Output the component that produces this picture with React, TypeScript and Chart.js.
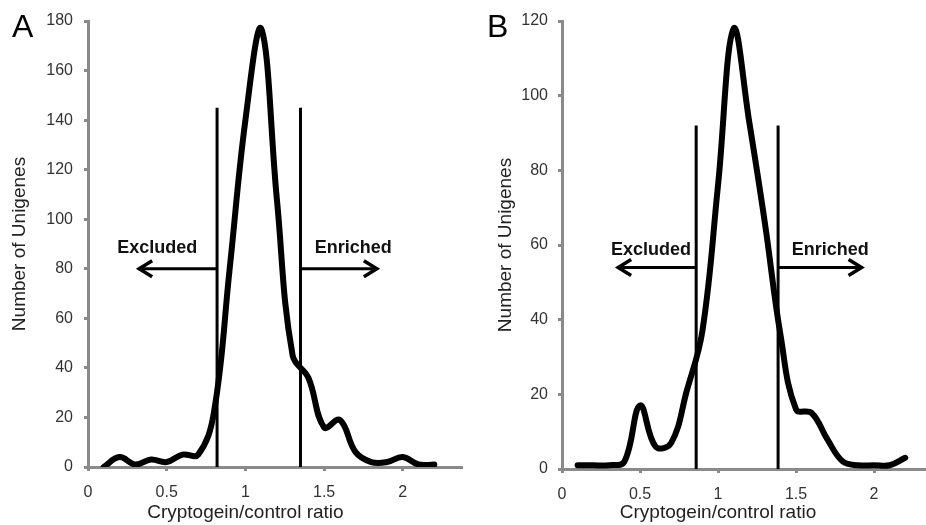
import React, { useEffect, useRef } from 'react';
import { Chart, registerables } from 'chart.js';

Chart.register(...registerables);

// ---- data ----
const RATIOS = [0.1, 0.2, 0.3, 0.4, 0.5, 0.6, 0.7, 0.8, 0.9, 1.0, 1.1, 1.2, 1.3, 1.4, 1.5, 1.6, 1.7, 1.8, 1.9, 2.0, 2.1, 2.2];
const COUNTS_A = [0, 4, 1, 3, 2, 5, 5, 22, 80, 140, 177, 108, 45, 36, 16, 19, 6, 2, 2, 4, 1, 1];
const COUNTS_B = [1, 1, 1, 2, 17, 6, 7, 21, 37, 76, 118, 93, 66, 36, 16, 15, 8, 2, 1, 1, 1, 3];
const X_TICKS = [0, 0.5, 1, 1.5, 2];
const Y_TICKS_A = [0, 20, 40, 60, 80, 100, 120, 140, 160, 180];
const Y_TICKS_B = [0, 20, 40, 60, 80, 100, 120];
const CUTOFFS_A = [0.82, 1.35];
const CUTOFFS_B = [0.86, 1.385];
const CUTOFF_TOP_A = 145;
const CUTOFF_TOP_B = 92;
const X_TITLE = 'Cryptogein/control ratio';
const Y_TITLE = 'Number of Unigenes';
const LABEL_LEFT = 'Excluded';
const LABEL_RIGHT = 'Enriched';

const FONT = '"Liberation Sans", Arial, Helvetica, sans-serif';
const AXIS_COLOR = '#8a8a8a';

type PanelCfg = {
  letter: string;
  letterX: number;
  counts: number[];
  yTicks: number[];
  cutoffs: number[];
  cutoffTop: number;
  arrowY: number;
  labelY: number;
  leftTip: number;
  rightTip: number;
  leftLabelX: number;
  rightLabelX: number;
  xMax: number;
  yAxisWidth: number;
  xAxisHeight: number;
  padTop: number;
  padRight: number;
  yTitlePad: number;
  yTickPad: number;
};

const PANEL_A: PanelCfg = {
  letter: 'A', letterX: 12,
  counts: COUNTS_A, yTicks: Y_TICKS_A,
  cutoffs: CUTOFFS_A, cutoffTop: CUTOFF_TOP_A,
  arrowY: 80, labelY: 88.5, leftTip: 0.325, rightTip: 1.835, leftLabelX: 0.44, rightLabelX: 1.685,
  xMax: 2.376, yAxisWidth: 88, xAxisHeight: 58, padTop: 21, padRight: 1, yTitlePad: 8.6, yTickPad: 11,
};

const PANEL_B: PanelCfg = {
  letter: 'B', letterX: 24,
  counts: COUNTS_B, yTicks: Y_TICKS_B,
  cutoffs: CUTOFFS_B, cutoffTop: CUTOFF_TOP_B,
  arrowY: 54, labelY: 58.7, leftTip: 0.36, rightTip: 1.92, leftLabelX: 0.57, rightLabelX: 1.72,
  xMax: 2.333, yAxisWidth: 99, xAxisHeight: 56, padTop: 21, padRight: 0, yTitlePad: 31.6, yTickPad: 10,
};

function Panel({ cfg }: { cfg: PanelCfg }) {
  const ref = useRef<HTMLCanvasElement | null>(null);

  useEffect(() => {
    const canvas = ref.current;
    if (!canvas) return;

    const annot = {
      id: 'annot' + cfg.letter,
      afterDraw(chart: any) {
        const ctx = chart.ctx;
        const xs = chart.scales.x;
        const ys = chart.scales.y;
        ctx.save();
        // cutoff lines
        ctx.strokeStyle = '#000';
        ctx.lineWidth = 3;
        ctx.lineCap = 'butt';
        for (const c of cfg.cutoffs) {
          const px = xs.getPixelForValue(c);
          ctx.beginPath();
          ctx.moveTo(px, ys.getPixelForValue(0));
          ctx.lineTo(px, ys.getPixelForValue(cfg.cutoffTop));
          ctx.stroke();
        }
        // arrows
        const ay = ys.getPixelForValue(cfg.arrowY);
        const drawArrow = (from: number, to: number) => {
          const fx = xs.getPixelForValue(from);
          const tx = xs.getPixelForValue(to);
          const dir = tx > fx ? 1 : -1;
          ctx.lineWidth = 3;
          ctx.beginPath();
          ctx.moveTo(fx, ay);
          ctx.lineTo(tx, ay);
          ctx.stroke();
          ctx.lineWidth = 3.5;
          ctx.lineJoin = 'miter';
          ctx.beginPath();
          ctx.moveTo(tx - dir * 13, ay - 8);
          ctx.lineTo(tx, ay);
          ctx.lineTo(tx - dir * 13, ay + 8);
          ctx.stroke();
        };
        drawArrow(cfg.cutoffs[0], cfg.leftTip);
        drawArrow(cfg.cutoffs[1], cfg.rightTip);
        // arrow labels
        ctx.fillStyle = '#111';
        ctx.font = 'bold 18px ' + FONT;
        ctx.textAlign = 'center';
        ctx.textBaseline = 'middle';
        const ly = ys.getPixelForValue(cfg.labelY);
        ctx.fillText(LABEL_LEFT, xs.getPixelForValue(cfg.leftLabelX), ly);
        ctx.fillText(LABEL_RIGHT, xs.getPixelForValue(cfg.rightLabelX), ly);
        // x title
        ctx.fillStyle = '#222';
        ctx.font = '19px ' + FONT;
        ctx.fillText(X_TITLE, xs.getPixelForValue(1), 513);
        // panel letter
        ctx.fillStyle = '#000';
        ctx.font = '32px ' + FONT;
        ctx.textAlign = 'left';
        ctx.textBaseline = 'alphabetic';
        ctx.fillText(cfg.letter, cfg.letterX, 37);
        ctx.restore();
      },
    };

    const chart = new Chart(canvas, {
      type: 'line',
      data: {
        datasets: [
          {
            data: RATIOS.map((r, i) => ({ x: r, y: cfg.counts[i] })),
            borderColor: '#000',
            borderWidth: 6,
            tension: 0.4,
            pointRadius: 0,
            fill: false,
            borderCapStyle: 'round',
            borderJoinStyle: 'round',
          },
        ],
      },
      options: {
        animation: false,
        responsive: false,
        events: [],
        layout: { padding: { top: cfg.padTop, right: cfg.padRight, left: 0, bottom: 0 } },
        plugins: { legend: { display: false }, tooltip: { enabled: false }, title: { display: false } },
        scales: {
          x: {
            type: 'linear',
            min: 0,
            max: cfg.xMax,
            afterBuildTicks: (scale: any) => {
              scale.ticks = X_TICKS.map((v) => ({ value: v }));
            },
            afterFit: (scale: any) => {
              scale.height = cfg.xAxisHeight;
            },
            grid: {
              drawOnChartArea: false,
              drawTicks: true,
              tickLength: 4,
              color: AXIS_COLOR,
              lineWidth: 3,
            },
            border: { display: true, color: AXIS_COLOR, width: 3 },
            ticks: {
              padding: 12,
              color: '#333',
              font: { size: 16, family: FONT },
              maxRotation: 0,
              autoSkip: false,
              callback: (v: any) => String(v),
            },
          },
          y: {
            type: 'linear',
            min: 0,
            max: cfg.yTicks[cfg.yTicks.length - 1],
            afterBuildTicks: (scale: any) => {
              scale.ticks = cfg.yTicks.map((v) => ({ value: v }));
            },
            afterFit: (scale: any) => {
              scale.width = cfg.yAxisWidth;
            },
            grid: {
              drawOnChartArea: false,
              drawTicks: true,
              tickLength: 4,
              color: AXIS_COLOR,
              lineWidth: 3,
            },
            border: { display: true, color: AXIS_COLOR, width: 3 },
            ticks: {
              padding: cfg.yTickPad,
              color: '#333',
              font: { size: 16, family: FONT },
              autoSkip: false,
              callback: (v: any) => String(v),
            },
            title: {
              display: true,
              text: Y_TITLE,
              color: '#222',
              font: { size: 19, family: FONT },
              padding: { top: cfg.yTitlePad, bottom: 0 },
            },
          },
        },
      },
      plugins: [annot],
    } as any);

    return () => chart.destroy();
  }, [cfg]);

  return <canvas ref={ref} width={463} height={525} style={{ display: 'block', width: 463, height: 525 }} />;
}

export default function App() {
  return (
    <div style={{ position: 'absolute', left: 0, top: 0, width: 926, height: 525, display: 'flex', background: '#fff' }}>
      <Panel cfg={PANEL_A} />
      <Panel cfg={PANEL_B} />
    </div>
  );
}
